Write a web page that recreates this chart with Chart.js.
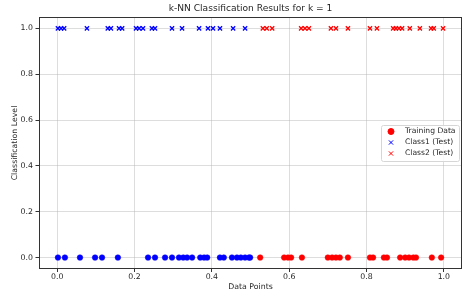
<!DOCTYPE html>
<html>
<head>
<meta charset="utf-8">
<script src="https://cdn.jsdelivr.net/npm/chart.js@4.4.1/dist/chart.umd.min.js"></script>
<style>
  html, body { margin: 0; padding: 0; background: #fff; }
  #wrap { width: 474px; height: 297px; }
</style>
</head>
<body>
<div id="wrap"><canvas id="c" width="474" height="297"></canvas></div>
<script>
// ---- data ----
const chartTitle = "k-NN Classification Results for k = 1";
const xLabel = "Data Points";
const yLabel = "Classification Level";
const xTicks = [0.0, 0.2, 0.4, 0.6, 0.8, 1.0];
const yTicks = [0.0, 0.2, 0.4, 0.6, 0.8, 1.0];

// training points of class 0 (blue, level 0) and class 1 (red, level 0)
const trainClass0X = [0.002, 0.020, 0.059, 0.098, 0.116, 0.157, 0.235, 0.253, 0.279, 0.297,
  0.315, 0.326, 0.336, 0.349, 0.370, 0.380, 0.388, 0.421, 0.431, 0.452, 0.465, 0.475,
  0.486, 0.496, 0.499];
const trainClass1X = [0.525, 0.587, 0.597, 0.605, 0.633, 0.700, 0.711, 0.721, 0.731, 0.752,
  0.809, 0.817, 0.845, 0.853, 0.887, 0.900, 0.910, 0.921, 0.928, 0.969, 0.993];
const trainLevel = 0;

// test points predicted as Class1 / Class2 (level 1)
const class1TestX = [0.002, 0.010, 0.018, 0.077, 0.131, 0.139, 0.160, 0.168, 0.204, 0.212,
  0.222, 0.245, 0.253, 0.297, 0.323, 0.367, 0.390, 0.403, 0.421, 0.455, 0.486];
const class2TestX = [0.532, 0.542, 0.556, 0.631, 0.641, 0.651, 0.708, 0.721, 0.752, 0.809,
  0.827, 0.869, 0.876, 0.884, 0.892, 0.912, 0.938, 0.967, 0.974, 0.998];
const testLevel = 1;

const seriesNames = ["Training Data", "Class1 (Test)", "Class2 (Test)"];

// ---- styles ----
const BLUE = "#0000ff";
const RED = "#ff0000";
const FONT = "'DejaVu Sans', sans-serif";
const TXT = "#262626";

const trainPts = trainClass1X.map(x => ({x, y: trainLevel, c: RED}))
  .concat(trainClass0X.map(x => ({x, y: trainLevel, c: BLUE})));

const frameAndLegend = {
  id: "frameAndLegend",
  afterDraw(chart) {
    const {ctx, chartArea: a} = chart;
    ctx.save();
    ctx.strokeStyle = "#333";
    ctx.lineWidth = 1;
    ctx.strokeRect(Math.round(a.left) + 0.5, Math.round(a.top) + 0.5,
      Math.round(a.right - a.left) - 1, Math.round(a.bottom - a.top) - 1);

    // title, centred over the plot area
    ctx.fillStyle = TXT;
    ctx.font = "9.1px " + FONT;
    ctx.textAlign = "center";
    ctx.textBaseline = "middle";
    ctx.fillText(chartTitle, (a.left + a.right) / 2, 9);

    // legend
    const bx = 381, by = 125, bw = 78, bh = 36, r = 2;
    ctx.fillStyle = "rgba(255,255,255,0.85)";
    ctx.strokeStyle = "#d6d6d6";
    ctx.beginPath();
    ctx.roundRect(bx + 0.5, by + 0.5, bw, bh, r);
    ctx.fill();
    ctx.stroke();
    const rows = [
      {style: "circle", color: RED, rad: 3},
      {style: "crossRot", color: BLUE, rad: 3},
      {style: "crossRot", color: RED, rad: 3}
    ];
    ctx.font = "7.6px " + FONT;
    ctx.textBaseline = "middle";
    ctx.textAlign = "left";
    rows.forEach((row, i) => {
      const y = by + 6.5 + i * 11;
      ctx.fillStyle = row.color;
      ctx.strokeStyle = row.color;
      Chart.helpers.drawPoint(ctx, {pointStyle: row.style, radius: row.rad, borderWidth: 1.3, rotation: 0}, 391, y);
      ctx.fillStyle = TXT;
      ctx.fillText(seriesNames[i], 405, y);
    });
    ctx.restore();
  }
};

new Chart(document.getElementById("c"), {
  type: "scatter",
  data: {
    datasets: [
      {
        label: seriesNames[0],
        data: trainPts,
        pointStyle: "circle",
        pointRadius: 2.8,
        pointBackgroundColor: ctx => ctx.raw ? ctx.raw.c : RED,
        pointBorderColor: ctx => ctx.raw ? ctx.raw.c : RED,
        pointBorderWidth: 0.5
      },
      {
        label: seriesNames[1],
        data: class1TestX.map(x => ({x, y: testLevel})),
        pointStyle: "crossRot",
        pointRadius: 3,
        pointBorderWidth: 1.3,
        borderColor: BLUE,
        backgroundColor: BLUE
      },
      {
        label: seriesNames[2],
        data: class2TestX.map(x => ({x, y: testLevel})),
        pointStyle: "crossRot",
        pointRadius: 3,
        pointBorderWidth: 1.3,
        borderColor: RED,
        backgroundColor: RED
      }
    ]
  },
  options: {
    responsive: false,
    animation: false,
    events: [],
    layout: {padding: {left: 0, right: 12, top: 17, bottom: 0}},
    plugins: {
      legend: {display: false},
      tooltip: {enabled: false},
      title: {display: false}
    },
    scales: {
      x: {
        type: "linear",
        min: -0.047,
        max: 1.047,
        afterFit(s) { s.height = 28; },
        afterBuildTicks(s) { s.ticks = xTicks.map(v => ({value: v})); },
        ticks: {
          includeBounds: false,
          color: TXT,
          font: {family: FONT, size: 7.8},
          padding: 0.5,
          maxRotation: 0,
          callback: v => Number(v).toFixed(1)
        },
        grid: {color: "rgba(176,176,176,0.55)", lineWidth: 0.8, tickLength: 3, tickColor: "#333", tickWidth: 1},
        border: {display: false},
        title: {
          display: true,
          text: xLabel,
          color: TXT,
          font: {family: FONT, size: 7.8, lineHeight: 1.2},
          padding: {top: 0, bottom: 5.3}
        }
      },
      y: {
        type: "linear",
        min: -0.05,
        max: 1.05,
        afterFit(s) { s.width = 39; },
        afterBuildTicks(s) { s.ticks = yTicks.map(v => ({value: v})); },
        ticks: {
          includeBounds: false,
          color: TXT,
          font: {family: FONT, size: 7.8},
          padding: 2.5,
          callback: v => Number(v).toFixed(1)
        },
        grid: {color: "rgba(176,176,176,0.55)", lineWidth: 0.8, tickLength: 3.5, tickColor: "#333", tickWidth: 1},
        border: {display: false},
        title: {
          display: true,
          text: yLabel,
          color: TXT,
          font: {family: FONT, size: 7.8, lineHeight: 1.2},
          padding: {top: 9.8, bottom: 0}
        }
      }
    }
  },
  plugins: [frameAndLegend]
});
</script>
</body>
</html>
